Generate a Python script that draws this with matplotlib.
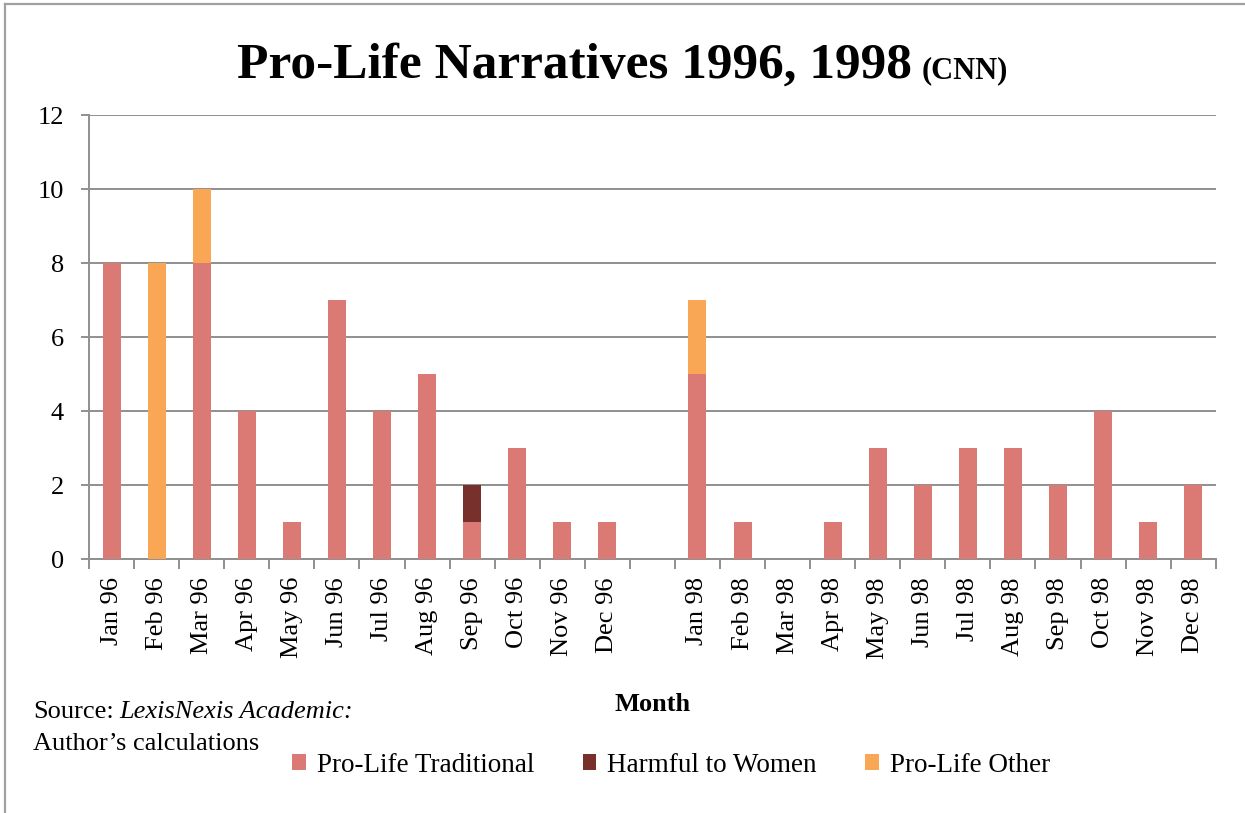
import matplotlib.pyplot as plt
from matplotlib.lines import Line2D
import numpy as np

plt.rcParams['font.family'] = ['Liberation Serif', 'DejaVu Serif']

# month labels, with one empty slot between the two years
months = ['Jan 96', 'Feb 96', 'Mar 96', 'Apr 96', 'May 96', 'Jun 96', 'Jul 96',
          'Aug 96', 'Sep 96', 'Oct 96', 'Nov 96', 'Dec 96', '',
          'Jan 98', 'Feb 98', 'Mar 98', 'Apr 98', 'May 98', 'Jun 98', 'Jul 98',
          'Aug 98', 'Sep 98', 'Oct 98', 'Nov 98', 'Dec 98']
traditional = [8, 0, 8, 4, 1, 7, 4, 5, 1, 3, 1, 1, 0,
               5, 1, 0, 1, 3, 2, 3, 3, 2, 4, 1, 2]
harmful = [0, 0, 0, 0, 0, 0, 0, 0, 1, 0, 0, 0, 0,
           0, 0, 0, 0, 0, 0, 0, 0, 0, 0, 0, 0]
other = [0, 8, 2, 0, 0, 0, 0, 0, 0, 0, 0, 0, 0,
         2, 0, 0, 0, 0, 0, 0, 0, 0, 0, 0, 0]
series_names = ['Pro-Life Traditional', 'Harmful to Women', 'Pro-Life Other']
colors = ['#DB7975', '#78302D', '#F9A755']

fig = plt.figure(figsize=(12.45, 8.13), dpi=100)
ax = fig.add_axes([0.0715, 0.3124, 0.905, 0.5461])

x = np.arange(len(months))
w = 0.4
trad = np.array(traditional)
harm = np.array(harmful)
oth = np.array(other)
ax.bar(x, trad, w, color=colors[0], label=series_names[0], zorder=3)
ax.bar(x, harm, w, bottom=trad, color=colors[1], label=series_names[1], zorder=3)
ax.bar(x, oth, w, bottom=trad + harm, color=colors[2], label=series_names[2], zorder=3)

grid_col = '#8F8F8F'
ax.set_xlim(-0.5, len(months) - 0.5)
ax.set_ylim(0, 12)
ax.set_yticks(range(0, 13, 2))
ax.yaxis.grid(True, color=grid_col, linewidth=1.4, zorder=0)
ax.tick_params(axis='y', labelsize=19, color=grid_col, width=1.4, length=6, pad=12)

ax.set_xticks(x)
ax.set_xticklabels(months, rotation=90, fontsize=19)
ax.set_xticks(np.arange(-0.5, len(months)), minor=True)
ax.tick_params(axis='x', which='major', length=0, pad=13)
ax.tick_params(axis='x', which='minor', length=7, width=1.4, color=grid_col)

for s in ['top', 'right']:
    ax.spines[s].set_visible(False)
for s in ['left', 'bottom']:
    ax.spines[s].set_color(grid_col)
    ax.spines[s].set_linewidth(1.4)

# title in two sizes, placed side by side
fig.canvas.draw()
r = fig.canvas.get_renderer()
t1 = fig.text(0.19, 0.904, 'Pro-Life Narratives 1996, 1998', fontsize=37,
              fontweight='bold', ha='left', va='baseline')
bb = t1.get_window_extent(r)
fig.text((bb.x1 + 10) / fig.bbox.width, 0.904, '(CNN)', fontsize=22,
         fontweight='bold', ha='left', va='baseline')

fig.text(0.524, 0.134, 'Month', fontsize=19, fontweight='bold', ha='center', va='center')
s1 = fig.text(0.0265, 0.124, 'Source:', fontsize=19, va='center')
bb = s1.get_window_extent(r)
fig.text((bb.x1 + 6) / fig.bbox.width, 0.124, 'LexisNexis Academic:', fontsize=19,
         style='italic', va='center')
fig.text(0.0265, 0.085, 'Author\u2019s calculations', fontsize=19, va='center')

fig.legend(loc='center', bbox_to_anchor=(0.539, 0.059), ncol=3, frameon=False,
           fontsize=19.5, handlelength=0.5, handleheight=0.5, columnspacing=1.8,
           handletextpad=0.4)

# outer chart border (top and left edges visible)
fig.add_artist(Line2D([0.004, 1.0], [0.995, 0.995], color='#A0A0A0', linewidth=1.6,
                      transform=fig.transFigure))
fig.add_artist(Line2D([0.004, 0.004], [0.0, 0.995], color='#A0A0A0', linewidth=1.6,
                      transform=fig.transFigure))

fig.savefig('out.png', dpi=100)
